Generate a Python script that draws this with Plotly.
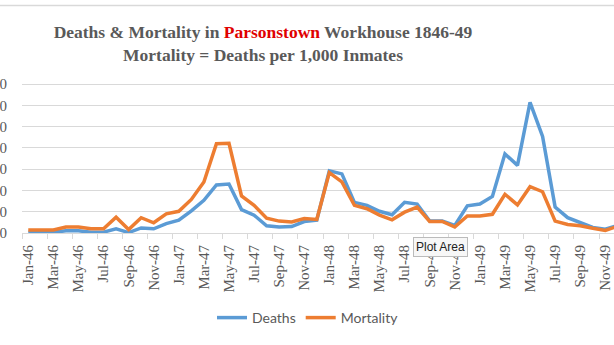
import plotly.graph_objects as go

month_names = ["Jan", "Feb", "Mar", "Apr", "May", "Jun", "Jul", "Aug", "Sep", "Oct", "Nov", "Dec"]
years = ["46", "47", "48", "49"]
months = [f"{m}-{y}" for y in years for m in month_names]

deaths = [2, 2, 2, 5, 5, 2, 2, 10, 1, 12, 10, 22,
          30, 52, 77, 113, 115, 55, 42, 17, 14, 15, 27, 30,
          146, 139, 72, 65, 51, 43, 72, 68, 28, 28, 18, 64,
          68, 86, 186, 159, 307, 227, 61, 36, 24, 13, 9, 18]
mortality = [7, 7, 7, 14, 14, 10, 10, 37, 8, 36, 24, 45,
             51, 79, 120, 210, 211, 87, 65, 35, 28, 26, 34, 32,
             142, 120, 65, 57, 42, 31, 49, 61, 27, 27, 14, 40,
             40, 44, 91, 66, 109, 97, 28, 20, 17, 11, 6, 16]

W, H = 614, 345
ML, MR, MT, MB = 21.7, 0, 82.4, 112
PH = H - MT - MB
grey = "#595959"
serif = "Liberation Serif"

fig = go.Figure()
fig.add_trace(go.Scatter(x=months, y=deaths, mode="lines", name="Deaths",
                         line=dict(color="#5b9bd5", width=3.5)))
fig.add_trace(go.Scatter(x=months, y=mortality, mode="lines", name="Mortality",
                         line=dict(color="#ed7d31", width=3.5)))

fig.update_layout(
    template="none",
    width=W, height=H,
    margin=dict(l=ML, r=MR, t=MT, b=MB, pad=0, autoexpand=False),
    paper_bgcolor="white", plot_bgcolor="white",
    title=dict(
        text="Deaths & Mortality in <span style='color:#e00000'>Parsonstown</span> Workhouse 1846-49<br>Mortality = Deaths per 1,000 Inmates",
        font=dict(family=serif, size=17.5, color=grey, weight="bold"),
        xref="container", yref="container", x=263 / W, xanchor="center",
        y=1 - 38 / H, yanchor="top", automargin=False),
    legend=dict(orientation="h", xref="container", yref="container",
                x=308 / W, xanchor="center", y=1 - 318 / H, yanchor="middle",
                font=dict(family="Lato", size=14, color=grey),
                itemwidth=30, bgcolor="rgba(0,0,0,0)"),
    xaxis=dict(type="category", range=[-0.5, (W - 28) / 12.55], automargin=False,
               tickmode="linear", tick0=0, dtick=2, tickson="boundaries",
               ticks="outside", ticklen=5, tickcolor="#d9d9d9",
               ticklabelstandoff=5,
               showgrid=False, showline=True, linecolor="#d9d9d9", linewidth=1,
               tickangle=-90, tickfont=dict(family=serif, size=15, color=grey)),
    yaxis=dict(range=[0, 355], dtick=50, showgrid=True, gridcolor="#d9d9d9", automargin=False,
               gridwidth=1, zeroline=False, showline=False, ticks="",
               ticklabelstandoff=14,
               tickfont=dict(family=serif, size=15, color=grey)),
    showlegend=True,
)

fig.add_shape(type="line", xref="paper", yref="paper", x0=-0.1, x1=1.1,
              y0=(233 - 6) / PH, y1=(233 - 6) / PH,
              line=dict(color="#d9d9d9", width=1.5))

fig.add_annotation(text="Plot Area", xref="paper", yref="paper",
                   x=(440 - ML) / (W - ML - MR), y=(233 - 247) / PH,
                   xanchor="center", yanchor="middle",
                   showarrow=False, font=dict(family="Liberation Sans", size=12, color="#222"),
                   bgcolor="#f7f7f7", bordercolor="#bbbbbb", borderwidth=1, borderpad=2)

fig.write_html("out.html")
